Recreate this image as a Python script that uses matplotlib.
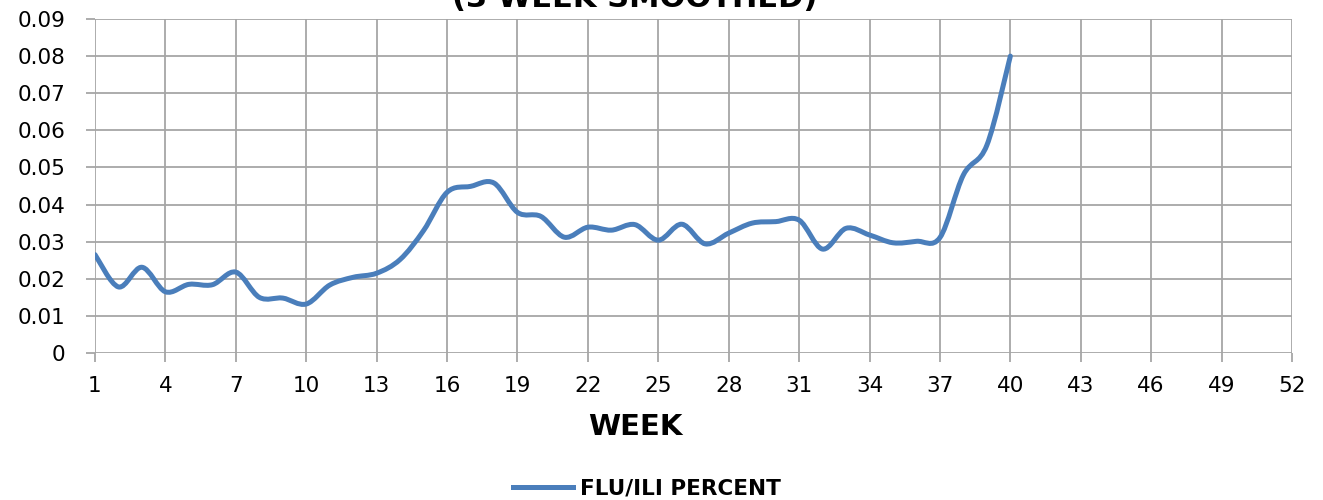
import matplotlib
matplotlib.use("Agg")
import matplotlib.pyplot as plt
from matplotlib.path import Path
from matplotlib.patches import PathPatch
from matplotlib.lines import Line2D

weeks = list(range(1, 41))
flu_ili = [0.0265, 0.0178, 0.0231, 0.0165, 0.0185, 0.0184, 0.0218, 0.0150, 0.0148, 0.0132,
           0.0183, 0.0204, 0.0215, 0.0252, 0.0330, 0.0433, 0.0449, 0.0458, 0.0379, 0.0368,
           0.0312, 0.0339, 0.0331, 0.0346, 0.0304, 0.0347, 0.0294, 0.0323, 0.0350, 0.0354,
           0.0358, 0.0280, 0.0336, 0.0318, 0.0297, 0.0301, 0.0311, 0.0480, 0.0560, 0.0800]
x_ticks = list(range(1, 53, 3))
y_ticks = [0, 0.01, 0.02, 0.03, 0.04, 0.05, 0.06, 0.07, 0.08, 0.09]
y_tick_labels = ["0", "0.01", "0.02", "0.03", "0.04", "0.05", "0.06", "0.07", "0.08", "0.09"]
title_visible = "(3 WEEK SMOOTHED)"
x_label = "WEEK"
series_name = "FLU/ILI PERCENT"

LINE_COLOR = "#4a7ebb"
GRID_COLOR = "#a6a6a6"
W, H = 1323, 500

fig = plt.figure(figsize=(13.23, 5.0), dpi=100)
ax = fig.add_axes([95 / W, 1 - 353 / H, (1292 - 95) / W, (353 - 19) / H])
ax.set_xlim(1, 52)
ax.set_ylim(0, 0.09)

# smoothed line (Excel-like cubic Bezier through the data points)
pts = list(zip(weeks, flu_ili))
n = len(pts)
verts = [pts[0]]
codes = [Path.MOVETO]
for i in range(n - 1):
    p0 = pts[i - 1] if i > 0 else pts[i]
    p1 = pts[i]
    p2 = pts[i + 1]
    p3 = pts[i + 2] if i + 2 < n else pts[i + 1]
    c1 = (p1[0] + (p2[0] - p0[0]) / 6, p1[1] + (p2[1] - p0[1]) / 6)
    c2 = (p2[0] - (p3[0] - p1[0]) / 6, p2[1] - (p3[1] - p1[1]) / 6)
    verts += [c1, c2, p2]
    codes += [Path.CURVE4] * 3
patch = PathPatch(Path(verts, codes), facecolor="none", edgecolor=LINE_COLOR,
                  linewidth=3.6, capstyle="round", joinstyle="round", zorder=3)
ax.add_patch(patch)

ax.set_xticks(x_ticks)
ax.set_yticks(y_ticks)
ax.set_yticklabels(y_tick_labels)
ax.grid(True, color=GRID_COLOR, linewidth=1.3)
ax.set_axisbelow(True)
for s in ax.spines.values():
    s.set_visible(False)
ax.tick_params(axis="both", colors=GRID_COLOR, length=6.5, width=1.3, labelcolor="black",
               labelsize=15.5)
ax.tick_params(axis="y", pad=15)
ax.tick_params(axis="x", pad=10)

fig.text(635 / W, 1 - 427 / H, x_label, ha="center", va="center",
         fontsize=21, fontweight="bold")

fig.text(635 / W, 1 - 7 / H, title_visible, ha="center", va="baseline",
         fontsize=22, fontweight="bold")

handle = Line2D([], [], color=LINE_COLOR, linewidth=3.6)
fig.legend([handle], [series_name], loc="center", bbox_to_anchor=(647 / W, 1 - 489 / H),
           frameon=False, prop={"size": 15.5, "weight": "bold"}, handlelength=2.8,
           handletextpad=0.35, borderaxespad=0, borderpad=0)

fig.savefig("out.png", dpi=100)
